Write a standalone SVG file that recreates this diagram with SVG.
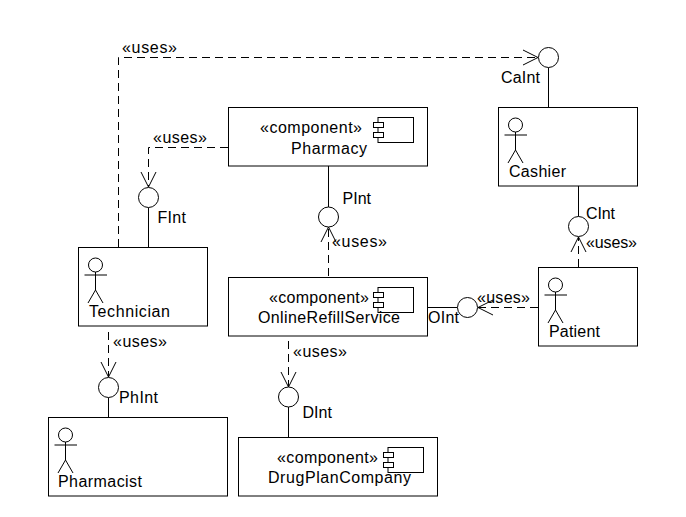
<svg xmlns="http://www.w3.org/2000/svg" width="686" height="517" viewBox="0 0 686 517">
<style>
.b{fill:#fff;stroke:#000;stroke-width:1}
.f{fill:none;stroke:#000;stroke-width:1}
.d{fill:none;stroke:#000;stroke-width:1;stroke-dasharray:8 5}
.s{fill:none;stroke:#000;stroke-width:1}
text{font-family:"Liberation Sans",Arial,sans-serif;font-size:16px;fill:#000}
</style>
<defs>
<marker id="open" markerUnits="userSpaceOnUse" markerWidth="20" markerHeight="20" refX="17" refY="10" orient="auto">
<path d="M2 2.5 L17 10 L2 17.5" fill="none" stroke="#000" stroke-width="1"/>
</marker>
<g id="actor" fill="none" stroke="#000" stroke-width="1">
<circle cx="17" cy="17.5" r="7"/>
<path d="M17 24.5V42.5M6 27.5H28.5M17 42.5L9.5 55.5M17 42.5L24.5 55.5"/>
</g>
<g id="comp">
<rect class="b" x="4.5" y="0" width="35.5" height="25"/>
<rect class="b" x="0" y="5" width="10" height="5"/>
<rect class="b" x="0" y="15" width="10" height="5"/>
</g>
</defs>
<rect width="686" height="517" fill="#fff"/>
<g id="connectors">
<path class="d" d="M118.5 247V57.5H538" marker-end="url(#open)"/>
<path class="d" d="M228 147.5H148.5V187" marker-end="url(#open)"/>
<path class="d" d="M328.5 276V227" marker-end="url(#open)"/>
<path class="d" d="M538 307.5H478" marker-end="url(#open)"/>
<path class="d" d="M578.5 267V237" marker-end="url(#open)"/>
<path class="d" d="M108.5 332V377" marker-end="url(#open)"/>
<path class="d" d="M288.5 341V387" marker-end="url(#open)"/>
<path class="s" d="M548.5 67.5V107.5M148.5 207.5V247.5M328.5 166V207M578.5 186V216.5M427.5 307.5H457.5M108.5 397.5V417.5M288.5 407V437.5"/>
<text x="122" y="53" textLength="55">«uses»</text>
<text x="153" y="143" textLength="54">«uses»</text>
<text x="332" y="247" textLength="55">«uses»</text>
<text x="586" y="248" textLength="51">«uses»</text>
<text x="477" y="303" textLength="53">«uses»</text>
<text x="113" y="347" textLength="54">«uses»</text>
<text x="293" y="357" textLength="54">«uses»</text>
</g>
<g id="CaInt"><circle class="b" cx="548.5" cy="57.5" r="10"/><text x="501" y="83" textLength="39">CaInt</text></g>
<g id="FInt"><circle class="b" cx="148.5" cy="197.5" r="10"/><text x="157.5" y="223" textLength="28.5">FInt</text></g>
<g id="PInt"><circle class="b" cx="328.5" cy="217" r="10"/><text x="342.5" y="204" textLength="28.5">PInt</text></g>
<g id="CInt"><circle class="b" cx="578.5" cy="226.5" r="10"/><text x="586" y="219" textLength="29">CInt</text></g>
<g id="OInt"><circle class="b" cx="467.5" cy="307.5" r="10"/><text x="428" y="323" textLength="31">OInt</text></g>
<g id="PhInt"><circle class="b" cx="108.5" cy="387.5" r="10"/><text x="119" y="403" textLength="39">PhInt</text></g>
<g id="DInt"><circle class="b" cx="288.5" cy="397" r="10"/><text x="302.5" y="418" textLength="29.5">DInt</text></g>
<g id="Pharmacy">
<rect class="b" x="228.5" y="107.5" width="199" height="58.5"/>
<use href="#comp" x="373.5" y="117.5"/>
<text x="260" y="133" textLength="102">«component»</text>
<text x="291" y="154" textLength="76">Pharmacy</text>
</g>
<g id="Cashier">
<rect class="b" x="498.5" y="107.5" width="139" height="78.5"/>
<use href="#actor" x="498.5" y="107.5"/>
<text x="509" y="177" textLength="57">Cashier</text>
</g>
<g id="Technician">
<rect class="b" x="78.5" y="247.5" width="129" height="78.5"/>
<use href="#actor" x="78.5" y="247.5"/>
<text x="89" y="317" textLength="81">Technician</text>
</g>
<g id="Patient">
<rect class="b" x="538.5" y="267.5" width="99" height="78.5"/>
<use href="#actor" x="538.5" y="267.5"/>
<text x="549" y="337" textLength="51">Patient</text>
</g>
<g id="OnlineRefillService">
<rect class="b" x="228.5" y="277.5" width="199" height="58.5"/>
<use href="#comp" x="373.5" y="287.5"/>
<text x="269" y="303" textLength="100">«component»</text>
<text x="258" y="323" textLength="142">OnlineRefillService</text>
</g>
<g id="Pharmacist">
<rect class="b" x="48.5" y="417.5" width="179" height="78.5"/>
<use href="#actor" x="48.5" y="417.5"/>
<text x="58" y="487" textLength="84">Pharmacist</text>
</g>
<g id="DrugPlanCompany">
<rect class="b" x="238.5" y="437.5" width="199" height="58.5"/>
<use href="#comp" x="383.5" y="447.5"/>
<text x="277" y="463" textLength="101">«component»</text>
<text x="268" y="483" textLength="143">DrugPlanCompany</text>
</g>
</svg>
